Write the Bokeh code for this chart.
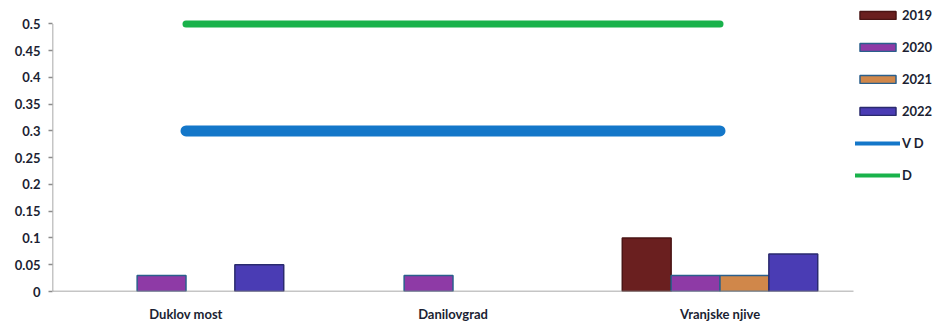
from bokeh.plotting import figure
from bokeh.models import (Range1d, FixedTicker, Legend, LegendItem, ColumnDataSource)
from bokeh.embed import file_html
from bokeh.resources import INLINE

# Monitoring stations and yearly values
categories = ["Duklov most", "Danilovgrad", "Vranjske njive"]
years = ["2019", "2020", "2021", "2022"]
values_2019 = [None, None, 0.10]
values_2020 = [0.03, 0.03, 0.03]
values_2021 = [None, None, 0.03]
values_2022 = [0.05, None, 0.07]

# Limit values
vd_limit = 0.3
d_limit = 0.5

y_ticks = [0, 0.05, 0.1, 0.15, 0.2, 0.25, 0.3, 0.35, 0.4, 0.45, 0.5]

series = [values_2019, values_2020, values_2021, values_2022]
fill_colors = ["#6a1f1f", "#8e3aa6", "#d0874a", "#4a3cb4"]
line_colors = ["#4a1414", "#2a5f8c", "#2a5f8c", "#2a2a6e"]

FONT = "Lato"
TEXT_COLOR = "#1c1f33"
AXIS_COLOR = "#8c8c8c"

n = len(categories)
y_max = y_ticks[-1]

# The plotting frame spans the whole canvas so the legend can sit to the right
# of the category area; the axis lines are drawn only over the data extent.
p = figure(width=935, height=324, output_backend="svg", toolbar_location=None,
           x_range=Range1d(0, n * 883 / 801), y_range=Range1d(0, y_max * 298 / 274),
           min_border_left=52, min_border_right=0, min_border_top=0,
           min_border_bottom=26)
p.outline_line_color = None
p.xgrid.visible = False
p.ygrid.visible = False
p.background_fill_color = "white"

bar_w = 0.183
legend_items = []
for k, (year, vals) in enumerate(zip(years, series)):
    xs, tops = [], []
    for i, v in enumerate(vals):
        if v is not None:
            xs.append(i + 0.5 + (k - 1.5) * bar_w)
            tops.append(v)
    src = ColumnDataSource(dict(x=xs, top=tops))
    bars = p.vbar(x="x", top="top", width=bar_w, source=src, fill_color=fill_colors[k],
                  line_color=line_colors[k], line_width=1.5)
    legend_items.append(LegendItem(label=year, renderers=[bars]))

# axis lines limited to the category span and the 0..0.5 value span
p.segment(x0=[0, 0], y0=[0, 0], x1=[n, 0], y1=[0, y_max],
          line_color=AXIS_COLOR, line_width=1.5)

centers = [i + 0.5 for i in range(n)]
x_line = [centers[0], centers[-1]]
p.line(x=x_line, y=[vd_limit, vd_limit], line_color="#1477c9", line_width=11,
       line_cap="round")
p.line(x=x_line, y=[d_limit, d_limit], line_color="#19b24b", line_width=7,
       line_cap="round")
# thinner stand-ins used only for the legend swatches
nan = float("nan")
vd_sw = p.line(x=[nan], y=[nan], line_color="#1477c9", line_width=4, line_cap="round")
d_sw = p.line(x=[nan], y=[nan], line_color="#19b24b", line_width=4, line_cap="round")
legend_items.append(LegendItem(label="V D", renderers=[vd_sw]))
legend_items.append(LegendItem(label="D", renderers=[d_sw]))

# Axes
p.yaxis.ticker = FixedTicker(ticks=y_ticks)
p.yaxis.major_label_overrides = {t: ("%g" % t) for t in y_ticks}
p.yaxis.major_tick_in = 0
p.yaxis.major_tick_out = 4
p.yaxis.major_label_standoff = 8

p.xaxis.ticker = FixedTicker(ticks=centers, minor_ticks=list(range(n + 1)))
p.xaxis.major_label_overrides = {c: name for c, name in zip(centers, categories)}
p.xaxis.major_tick_in = 0
p.xaxis.major_tick_out = 0
p.xaxis.minor_tick_in = 0
p.xaxis.minor_tick_out = 4
p.xaxis.major_label_standoff = 10

for ax in (p.xaxis, p.yaxis):
    ax.axis_line_color = None
    ax.major_tick_line_color = AXIS_COLOR
    ax.major_tick_line_width = 1.5
    ax.minor_tick_line_color = AXIS_COLOR if ax is p.xaxis else None
    ax.minor_tick_line_width = 1.5
    ax.major_label_text_font = FONT
    ax.major_label_text_font_style = "bold"
    ax.major_label_text_font_size = "13px"
    ax.major_label_text_color = TEXT_COLOR

legend = Legend(items=legend_items, location=(803, 108), orientation="vertical",
                border_line_color=None, background_fill_alpha=0,
                glyph_width=45, glyph_height=10, label_height=10, spacing=16,
                padding=0, margin=0, label_standoff=2,
                label_text_font=FONT, label_text_font_style="bold",
                label_text_font_size="13px", label_text_color=TEXT_COLOR)
p.add_layout(legend)

open("out.html", "w").write(file_html(p, INLINE))
